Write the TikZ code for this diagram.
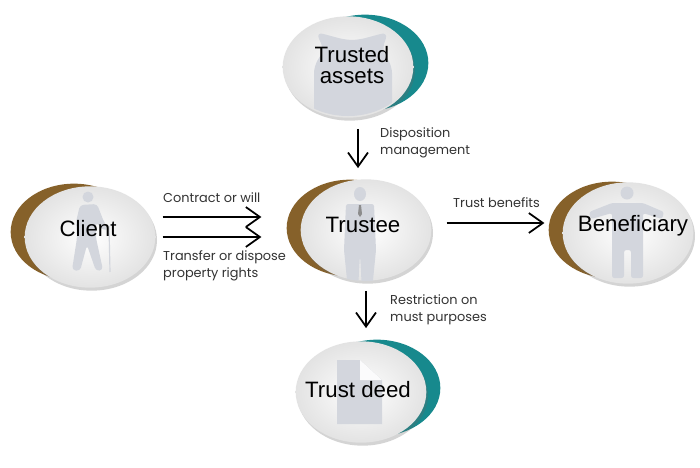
\documentclass[tikz,border=0pt]{standalone}
\usepackage{fontspec}
\setmainfont{Liberation Sans}
\newfontfamily\legende{Poppins}
\usetikzlibrary{arrows.meta,shapes.geometric,shadows}

\definecolor{sarcelle}{HTML}{17898D}
\definecolor{brun}{HTML}{86612A}
\definecolor{gris}{HTML}{D3D6DD}

\tikzset{
  disque/.style={ellipse,minimum width=3.92cm,minimum height=3.04cm,inner sep=0pt,
    shade,inner color=white,outer color=black!11,
    drop shadow={opacity=0.28,shadow xshift=0.05cm,shadow yshift=-0.09cm,fill=black!60}},
  croissant/.style={ellipse,minimum width=3.8cm,minimum height=2.9cm,inner sep=0pt,fill=#1},
  titre/.style={font=\fontsize{19}{18}\selectfont,align=center,inner sep=0pt},
  texte/.style={font=\legende\fontsize{11}{14.5}\selectfont,align=left,inner sep=0pt,text=black!80},
  fleche/.style={-{Straight Barb[length=12pt,width=17pt,line width=1.5pt]},line width=1.6pt},
  icone/.style={fill=gris}
}

\begin{document}
\begin{tikzpicture}[x=0.03cm,y=-0.03cm]
  \fill[white] (0,0) rectangle (700,467);
  \useasboundingbox (0,0) rectangle (700,467);

  % croissants
  \node[croissant=sarcelle] (assets-c) at (365,63) {};
  \node[croissant=brun] (client-c) at (74,232) {};
  \node[croissant=brun] (trustee-c) at (350,228) {};
  \node[croissant=brun] (benef-c) at (612,230) {};
  \node[croissant=sarcelle] (deed-c) at (377,388) {};

  % disques
  \node[disque] (assets) at (348,67) {};
  \node[disque] (client) at (90,237) {};
  \node[disque] (trustee) at (366,230) {};
  \node[disque] (benef) at (628,233) {};
  \node[disque] (deed) at (361,392) {};

  % icones
  \begin{scope}
    \clip (assets.center) ellipse [x radius=64, y radius=49];
    \fill[icone,rounded corners=6] (316,32) -- (346,40) -- (358,40) -- (388,32)
      -- (382,50) -- (392,66) -- (392,122) -- (314,122) -- (314,66) -- (324,50) -- cycle;
  \end{scope}
  \fill[icone] (88,197) circle [radius=5.5];
  \fill[icone,rounded corners=3] (80,205) -- (97,204) -- (104,222) -- (108,228)
    -- (104,231) -- (96,222) -- (96,238) -- (103,270) -- (96,271) -- (87,245)
    -- (80,271) -- (72,270) -- (77,238) -- (76,222) -- cycle;
  \draw[gris,line width=1pt] (109,226) -- (110,272);
  \begin{scope}
    \clip (trustee.center) ellipse [x radius=65, y radius=51];
    \fill[icone] (360,194) ellipse [x radius=6, y radius=7];
    \fill[icone,rounded corners=2] (346,204) -- (374,204) -- (376,250) -- (372,290)
      -- (362,290) -- (360,255) -- (358,290) -- (348,290) -- (344,250) -- cycle;
    \fill[black!45] (359,205) -- (361,205) -- (362,214) -- (360,217) -- (358,214) -- cycle;
  \end{scope}
  \fill[icone] (627,193) circle [radius=6.5];
  \fill[icone,rounded corners=2] (612,203) -- (643,203) -- (664,212) -- (662,219)
    -- (643,213) -- (643,278) -- (631,278) -- (631,250) -- (624,250) -- (624,278)
    -- (612,278) -- (612,213) -- (591,219) -- (589,212) -- cycle;
  \fill[icone] (337,360) -- (360,360) -- (382,380) -- (382,424) -- (337,424) -- cycle;
  \fill[white!90!gris] (360,360) -- (360,380) -- (382,380) -- cycle;

  % titres
  \node[titre] (assets-t) at (352,65) {Trusted\\assets};
  \node[titre] (client-t) at (88,229) {Client};
  \node[titre] (trustee-t) at (363,225) {Trustee};
  \node[titre] (benef-t) at (633,226) {Beneficiary};
  \node[titre] (deed-t) at (358,390) {Trust deed};

  % fleches
  \draw[fleche] ([shift={(10,11)}]assets.south) -- ([shift={(-8,-11)}]trustee.north);
  \draw[fleche] ([shift={(7,-20)}]client.east) -- ([shift={(-25,-11)}]trustee-c.west);
  \draw[fleche] ([shift={(7,0)}]client.east) -- ([shift={(-25,9)}]trustee-c.west);
  \draw[fleche] ([shift={(15,-7)}]trustee.east) -- ([shift={(-4,-7)}]benef-c.west);
  \draw[fleche] ([shift={(0,10)}]trustee.south) -- ([shift={(5,-13)}]deed.north);

  % legendes
  \node[texte,anchor=north west] (disposition) at (380,127) {Disposition\\management};
  \node[texte,anchor=south west] (contrat) at (163,203) {Contract or will};
  \node[texte,anchor=north west] (transfert) at (163,250) {Transfer or dispose\\property rights};
  \node[texte,anchor=south west] (benefices) at (453,208) {Trust benefits};
  \node[texte,anchor=north west] (restriction) at (390,294) {Restriction on\\must purposes};
\end{tikzpicture}
\end{document}
